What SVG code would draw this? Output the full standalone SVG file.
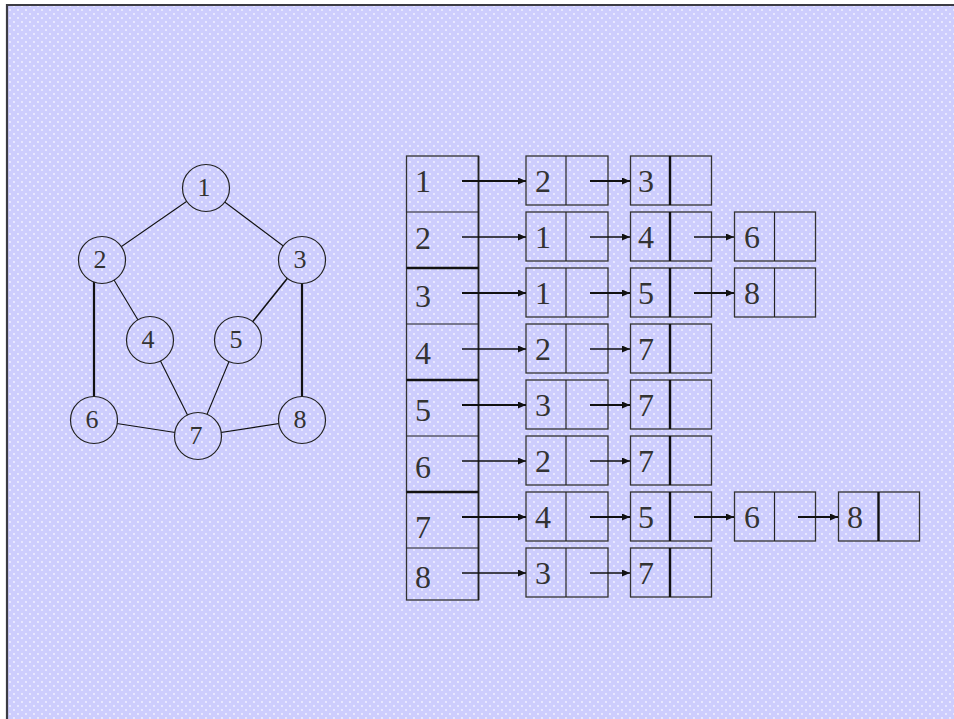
<svg xmlns="http://www.w3.org/2000/svg" width="954" height="719" viewBox="0 0 954 719">
<defs>
<pattern id="bg" x="0" y="0" width="8" height="8" patternUnits="userSpaceOnUse">
<rect width="8" height="8" fill="#cdcdfd"/>
<circle cx="2" cy="2" r="0.9" fill="#f4f4ff"/>
<circle cx="6" cy="6" r="0.9" fill="#f4f4ff"/>
</pattern>
<marker id="ah" markerWidth="9" markerHeight="8" refX="8" refY="3.5" orient="auto" markerUnits="userSpaceOnUse">
<path d="M0,0 L8,3.5 L0,7 z" fill="#111"/>
</marker>
</defs>
<style>
.nd{fill:url(#bg);stroke:#222;stroke-width:1.2}
.nt{font-family:"Liberation Serif","Times New Roman",serif;font-size:26px;fill:#333;text-anchor:middle}
.lt{font-family:"Liberation Serif","Times New Roman",serif;font-size:32px;fill:#333}
.e{stroke:#111;stroke-width:1.1;fill:none}
.ek{stroke:#111;stroke-width:2.2;fill:none}
.bx{fill:none;stroke:#333;stroke-width:1.3}
.dv{stroke:#222;stroke-width:1.2}
.dvk{stroke:#111;stroke-width:2.4}
.ar{stroke:#111;stroke-width:1.3;fill:none;marker-end:url(#ah)}
.ark{stroke:#111;stroke-width:2;fill:none;marker-end:url(#ah)}
</style>
<rect width="954" height="719" fill="#ffffff"/>
<rect x="7" y="5" width="947" height="714" fill="url(#bg)"/>
<path d="M7,719 V5 H954" fill="none" stroke="#3c3c44" stroke-width="2.2"/>

<g id="graph-edges">
<line class="e" x1="206" y1="188" x2="102" y2="260"/>
<line class="e" x1="206" y1="188" x2="302" y2="260"/>
<line class="e" x1="102" y1="260" x2="150" y2="340"/>
<line class="ek" x1="94" y1="260" x2="94" y2="420"/>
<line class="e" x1="302" y1="260" x2="238" y2="340" style="stroke-width:1.6"/>
<line class="ek" x1="302" y1="260" x2="302" y2="420"/>
<line class="e" x1="150" y1="340" x2="198" y2="436"/>
<line class="e" x1="238" y1="340" x2="198" y2="436"/>
<line class="e" x1="94" y1="420" x2="198" y2="436"/>
<line class="e" x1="302" y1="420" x2="198" y2="436"/>
</g>

<g id="n1"><circle class="nd" cx="206" cy="188" r="23.5"/><text class="nt" x="204" y="196">1</text></g>
<g id="n2"><circle class="nd" cx="102" cy="260" r="23.5"/><text class="nt" x="100" y="268">2</text></g>
<g id="n3"><circle class="nd" cx="302" cy="260" r="23.5"/><text class="nt" x="300" y="268">3</text></g>
<g id="n4"><circle class="nd" cx="150" cy="340" r="23.5"/><text class="nt" x="148" y="348">4</text></g>
<g id="n5"><circle class="nd" cx="238" cy="340" r="23.5"/><text class="nt" x="236" y="348">5</text></g>
<g id="n6"><circle class="nd" cx="94" cy="420" r="23.5"/><text class="nt" x="92" y="428">6</text></g>
<g id="n7"><circle class="nd" cx="198" cy="436" r="23.5"/><text class="nt" x="196" y="444">7</text></g>
<g id="n8"><circle class="nd" cx="302" cy="420" r="23.5"/><text class="nt" x="300" y="428">8</text></g>

<g id="head-array">
<rect class="bx" x="406.5" y="156" width="72" height="444"/>
<line class="dv" x1="478.5" y1="156" x2="478.5" y2="600" style="stroke-width:1.7"/>
<line class="dv" x1="406.5" y1="212" x2="478.5" y2="212"/>
<line class="dvk" x1="406.5" y1="268" x2="478.5" y2="268"/>
<line class="dv" x1="406.5" y1="324" x2="478.5" y2="324"/>
<line class="dvk" x1="406.5" y1="380" x2="478.5" y2="380"/>
<line class="dv" x1="406.5" y1="436" x2="478.5" y2="436"/>
<line class="dvk" x1="406.5" y1="492" x2="478.5" y2="492"/>
<line class="dv" x1="406.5" y1="548" x2="478.5" y2="548"/>
<text class="lt" x="415" y="192">1</text>
<text class="lt" x="415" y="249">2</text>
<text class="lt" x="415" y="307">3</text>
<text class="lt" x="415" y="364">4</text>
<text class="lt" x="415" y="421">5</text>
<text class="lt" x="415" y="478">6</text>
<text class="lt" x="415" y="538">7</text>
<text class="lt" x="415" y="588">8</text>
</g>

<g id="r1a"><rect class="bx" x="526" y="156" width="82" height="49"/><line class="dv" x1="566" y1="156" x2="566" y2="205"/><text class="lt" x="535" y="192">2</text></g>
<g id="r1b"><rect class="bx" x="630.5" y="156" width="81" height="49"/><line class="dvk" x1="670" y1="156" x2="670" y2="205"/><text class="lt" x="638" y="192">3</text></g>
<g id="r2a"><rect class="bx" x="526" y="212" width="82" height="49"/><line class="dv" x1="566" y1="212" x2="566" y2="261"/><text class="lt" x="535" y="248">1</text></g>
<g id="r2b"><rect class="bx" x="630.5" y="212" width="81" height="49"/><line class="dvk" x1="670" y1="212" x2="670" y2="261"/><text class="lt" x="638" y="248">4</text></g>
<g id="r2c"><rect class="bx" x="734.5" y="212" width="81" height="49"/><line class="dv" x1="774.5" y1="212" x2="774.5" y2="261"/><text class="lt" x="744" y="248">6</text></g>
<g id="r3a"><rect class="bx" x="526" y="268" width="82" height="49"/><line class="dv" x1="566" y1="268" x2="566" y2="317"/><text class="lt" x="535" y="304">1</text></g>
<g id="r3b"><rect class="bx" x="630.5" y="268" width="81" height="49"/><line class="dvk" x1="670" y1="268" x2="670" y2="317"/><text class="lt" x="638" y="304">5</text></g>
<g id="r3c"><rect class="bx" x="734.5" y="268" width="81" height="49"/><line class="dv" x1="774.5" y1="268" x2="774.5" y2="317"/><text class="lt" x="744" y="304">8</text></g>
<g id="r4a"><rect class="bx" x="526" y="324" width="82" height="49"/><line class="dv" x1="566" y1="324" x2="566" y2="373"/><text class="lt" x="535" y="360">2</text></g>
<g id="r4b"><rect class="bx" x="630.5" y="324" width="81" height="49"/><line class="dvk" x1="670" y1="324" x2="670" y2="373"/><text class="lt" x="638" y="360">7</text></g>
<g id="r5a"><rect class="bx" x="526" y="380" width="82" height="49"/><line class="dv" x1="566" y1="380" x2="566" y2="429"/><text class="lt" x="535" y="416">3</text></g>
<g id="r5b"><rect class="bx" x="630.5" y="380" width="81" height="49"/><line class="dvk" x1="670" y1="380" x2="670" y2="429"/><text class="lt" x="638" y="416">7</text></g>
<g id="r6a"><rect class="bx" x="526" y="436" width="82" height="49"/><line class="dv" x1="566" y1="436" x2="566" y2="485"/><text class="lt" x="535" y="472">2</text></g>
<g id="r6b"><rect class="bx" x="630.5" y="436" width="81" height="49"/><line class="dvk" x1="670" y1="436" x2="670" y2="485"/><text class="lt" x="638" y="472">7</text></g>
<g id="r7a"><rect class="bx" x="526" y="492" width="82" height="49"/><line class="dv" x1="566" y1="492" x2="566" y2="541"/><text class="lt" x="535" y="528">4</text></g>
<g id="r7b"><rect class="bx" x="630.5" y="492" width="81" height="49"/><line class="dvk" x1="670" y1="492" x2="670" y2="541"/><text class="lt" x="638" y="528">5</text></g>
<g id="r7c"><rect class="bx" x="734.5" y="492" width="81" height="49"/><line class="dv" x1="774.5" y1="492" x2="774.5" y2="541"/><text class="lt" x="744" y="528">6</text></g>
<g id="r7d"><rect class="bx" x="838.5" y="492" width="81" height="49"/><line class="dvk" x1="878.5" y1="492" x2="878.5" y2="541"/><text class="lt" x="847" y="528">8</text></g>
<g id="r8a"><rect class="bx" x="526" y="548" width="82" height="49"/><line class="dv" x1="566" y1="548" x2="566" y2="597"/><text class="lt" x="535" y="584">3</text></g>
<g id="r8b"><rect class="bx" x="630.5" y="548" width="81" height="49"/><line class="dvk" x1="670" y1="548" x2="670" y2="597"/><text class="lt" x="638" y="584">7</text></g>

<g id="connectors">
<line class="ark" x1="462" y1="181" x2="526" y2="181"/>
<line class="ar" x1="462" y1="237" x2="526" y2="237"/>
<line class="ark" x1="462" y1="293" x2="526" y2="293"/>
<line class="ar" x1="462" y1="349" x2="526" y2="349"/>
<line class="ark" x1="462" y1="405" x2="526" y2="405"/>
<line class="ar" x1="462" y1="461" x2="526" y2="461"/>
<line class="ark" x1="462" y1="517" x2="526" y2="517"/>
<line class="ar" x1="462" y1="573" x2="526" y2="573"/>
<line class="ark" x1="590" y1="181" x2="630" y2="181"/>
<line class="ar" x1="590" y1="237" x2="630" y2="237"/>
<line class="ark" x1="590" y1="293" x2="630" y2="293"/>
<line class="ar" x1="590" y1="349" x2="630" y2="349"/>
<line class="ark" x1="590" y1="405" x2="630" y2="405"/>
<line class="ar" x1="590" y1="461" x2="630" y2="461"/>
<line class="ark" x1="590" y1="517" x2="630" y2="517"/>
<line class="ar" x1="590" y1="573" x2="630" y2="573"/>
<line class="ar" x1="694" y1="237" x2="734" y2="237"/>
<line class="ark" x1="694" y1="293" x2="734" y2="293"/>
<line class="ark" x1="694" y1="517" x2="734" y2="517"/>
<line class="ark" x1="798" y1="517" x2="838" y2="517"/>
</g>
</svg>
